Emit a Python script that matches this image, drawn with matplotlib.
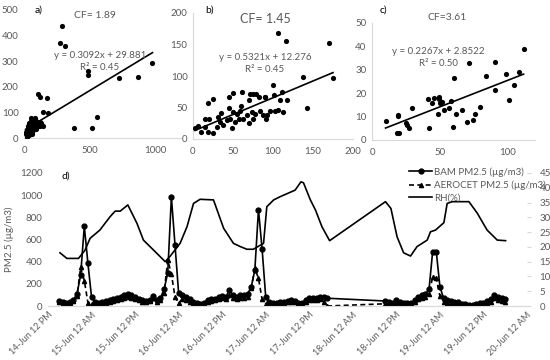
import matplotlib
matplotlib.use("Agg")
import matplotlib.pyplot as plt
import numpy as np

plt.rcParams['font.family'] = ['Lato', 'DejaVu Sans']

GRAY = '#595959'
SPINE = '#d9d9d9'

# ---------------- panel a data ----------------
a_x = [290, 275, 313, 491, 491, 982, 723, 870, 109, 122, 173, 181, 143, 555, 384, 517, 147,
       12, 18, 22, 25, 30, 33, 35, 38, 40, 42, 45, 48, 50, 52, 55, 58, 60, 62, 65, 68, 70, 72,
       75, 78, 80, 85, 88, 90, 95, 100, 105, 110, 115, 120, 125, 130, 20, 28, 36, 44, 56, 64, 82]
a_y = [437, 370, 359, 262, 246, 292, 233, 237, 172, 159, 155, 99, 100, 83, 40, 40, 47,
       15, 22, 8, 30, 12, 45, 20, 60, 28, 10, 52, 35, 18, 65, 42, 25, 70, 55, 38, 48, 75, 30,
       62, 45, 58, 40, 68, 52, 35, 60, 45, 55, 50, 62, 48, 58, 5, 40, 55, 25, 78, 15, 80]
a_eq = "y = 0.3092x + 29.881"
a_r2 = "R² = 0.45"
a_cf = "CF= 1.89"
a_slope, a_int = 0.3092, 29.881

# ---------------- panel b data ----------------
b_x = [106.7, 116, 170, 175, 138, 142, 117, 111, 100, 90, 61, 50, 45, 25, 19, 71,
       2.5, 6.7, 9.6, 15, 19, 25, 20.4, 15, 31.7, 33.7, 29.6, 37.9, 42, 46.3, 48.3, 52.5,
       55.4, 58.8, 60, 57.9, 62.9, 67, 70.4, 75.4, 77.5, 73.3, 83.8, 87.9, 91.3, 92.9, 96.3,
       102.5, 106.7, 108.8, 101.3, 78.8, 74.6, 82.9, 69.6, 45.4, 34.6, 50.4, 112.9, 89.6]
b_y = [169, 155, 152, 97, 99, 49, 62, 74, 86, 67, 75, 73, 66, 63, 57, 71,
       17, 20.6, 11.6, 18.5, 11.6, 9, 31, 32, 35, 27, 19.6, 22, 30, 32, 17, 27,
       40, 45, 52, 32, 32, 38, 26, 32, 40, 43, 45, 38, 32, 38, 45,
       45, 46, 62, 70, 72, 72, 66, 62, 50, 42, 43, 43, 66]
b_eq = "y = 0.5321x + 12.276"
b_r2 = "R² = 0.45"
b_cf = "CF= 1.45"
b_slope, b_int = 0.5321, 12.276

# ---------------- panel c data ----------------
c_x = [10, 18.8, 19, 18.3, 20, 29.4, 25.2, 25.7, 27, 42.2, 41.2, 45.4, 44.2, 49.1, 49.1, 48.4,
       49.9, 51.6, 52.8, 56.5, 58.3, 60.2, 61.5, 59.5, 66.4, 69.6, 71.4, 74.6, 75.6, 79.3,
       84.2, 90.4, 90.4, 99, 100.5, 104.7, 108.4, 111.6]
c_y = [8.1, 10.7, 10.3, 2.9, 3.2, 13.8, 7.4, 6.4, 5.3, 5.3, 17.4, 18.1, 15.7, 18.5, 17.6, 11,
       15.7, 16.4, 12.8, 13.8, 16.8, 26.6, 11, 5.4, 12.8, 7.6, 33, 8.5, 11, 14,
       27.5, 33.2, 21.4, 28.2, 17.1, 23.5, 29.2, 38.9]
c_eq = "y = 0.2267x + 2.8522"
c_r2 = "R² = 0.50"
c_cf = "CF=3.61"
c_slope, c_int = 0.2267, 2.8522

# ---------------- panel d data (hours after 14-Jun 12 PM) ----------------
bam_hours_1 = list(range(3, 78))
bam_vals_1 = [45, 35, 30, 35, 55, 110, 280, 720, 385, 80,
              35, 30, 35, 45, 55, 60, 70, 85, 100, 105,
              95, 80, 65, 50, 45, 55, 90, 50, 75, 150,
              300, 985, 550, 115, 100, 80, 60, 40, 25, 20,
              30, 55, 60, 65, 80, 90, 85, 140, 95, 80,
              100, 95, 110, 170, 325, 870, 515, 80, 35, 30,
              30, 35, 40, 45, 50, 45, 30, 25, 50, 70,
              75, 70, 85, 80, 70]
bam_hours_2 = list(range(93, 127))
bam_vals_2 = [45, 35, 30, 50, 35, 25, 30, 25, 50, 85,
              100, 110, 150, 490, 490, 175, 70, 50, 45, 40,
              35, 20, 15, 10, 5, 15, 25, 30, 45, 60,
              100, 80, 75, 60]

aer_vals_1 = [35, 28, 25, 30, 45, 90, 350, 230, 30, 20,
              20, 20, 25, 30, 40, 45, 55, 65, 75, 80,
              70, 60, 50, 40, 35, 45, 70, 40, 55, 120,
              415, 290, 80, 30, 60, 55, 40, 25, 15, 10,
              20, 40, 45, 50, 60, 70, 65, 100, 70, 60,
              75, 70, 85, 160, 340, 250, 60, 20, 15, 15,
              20, 25, 30, 35, 40, 35, 20, 15, 35, 50,
              55, 50, 60, 40, 0]
aer_vals_2 = [20, 20, 15, 30, 20, 15, 20, 15, 35, 60,
              75, 85, 110, 260, 250, 90, 40, 30, 30, 25,
              20, 10, 8, 5, 3, 8, 15, 20, 30, 40,
              70, 50, 45, 35]

rh_hours = [3.3, 5.2, 8.4, 10.2, 11.6, 14.3, 17.1, 18.5, 19.9, 22.0, 24.5, 26.3, 29.1, 32.3,
            33.7, 36.4, 38.3, 40.1, 41.9, 45.6, 48.4, 51.1, 53.0, 54.8, 56.6, 59.4, 60.3,
            62.2, 64.0, 68.1, 69.7, 70.4, 72.3, 73.7, 75.5, 77.6, 93.0, 94.5, 96.2, 98.0,
            99.9, 101.7, 104.5, 105.4, 106.8, 109.1, 110.0, 111.4, 116.0, 118.3, 121.0,
            123.8, 126.1]
rh_vals = [18.0, 16.1, 16.1, 18.9, 22.9, 25.7, 30.2, 32.1, 32.1, 34.2, 28.0, 22.3, 18.9, 15.0,
           16.9, 21.2, 26.8, 34.7, 36.1, 35.9, 26.3, 21.2, 20.1, 19.2, 19.2, 21.2, 33.6,
           35.9, 37.0, 39.2, 42.0, 41.7, 35.9, 32.5, 26.8, 22.1, 35.3, 33.0, 23.4, 18.0,
           16.9, 20.1, 22.3, 25.1, 25.7, 28.2, 34.7, 35.3, 35.3, 31.4, 25.7,
           22.3, 22.1]

d_tick_labels = ["14-Jun 12 PM", "15-Jun 12 AM", "15-Jun 12 PM", "16-Jun 12 AM",
                 "16-Jun 12 PM", "17-Jun 12 AM", "17-Jun 12 PM", "18-Jun 12 AM",
                 "18-Jun 12 PM", "19-Jun 12 AM", "19-Jun 12 PM", "20-Jun 12 AM"]

W, H = 550, 360
fig = plt.figure(figsize=(5.5, 3.6), dpi=100)


def px_rect(x0, y0, x1, y1):
    return [x0 / W, 1 - y1 / H, (x1 - x0) / W, (y1 - y0) / H]


def ftext(x, y, s, **kw):
    fig.text(x / W, 1 - y / H, s, **kw)


def style_scatter_ax(ax, left_spine=True):
    for s in ['top', 'right']:
        ax.spines[s].set_visible(False)
    ax.spines['left'].set_visible(left_spine)
    ax.spines['left'].set_color(SPINE)
    ax.spines['bottom'].set_color(SPINE)
    ax.tick_params(length=0, labelsize=7, colors=GRAY)
    ax.tick_params(axis='x', pad=6)
    ax.tick_params(axis='y', pad=4)


def scatter_panel(rect, xs, ys, slope, inter, xlim, xticks, ylim, yticks, left_spine):
    ax = fig.add_axes(rect)
    ax.scatter(xs, ys, s=14, color='black', zorder=3, linewidths=0)
    xx = np.array([min(xs), max(xs)])
    ax.plot(xx, slope * xx + inter, color='black', lw=1.2, zorder=4)
    ax.set_xlim(*xlim)
    ax.set_ylim(*ylim)
    ax.set_xticks(xticks)
    ax.set_yticks(yticks)
    style_scatter_ax(ax, left_spine)
    ax.patch.set_alpha(0)
    return ax


scatter_panel(px_rect(24, 10, 181, 138), a_x, a_y, a_slope, a_int,
              (0, 1200), [0, 500, 1000], (0, 500), range(0, 501, 100), False)
scatter_panel(px_rect(193, 13, 353, 139), b_x, b_y, b_slope, b_int,
              (0, 200), range(0, 201, 50), (0, 200), range(0, 201, 50), True)
scatter_panel(px_rect(372, 23, 535, 140), c_x, c_y, c_slope, c_int,
              (0, 120), [0, 50, 100], (0, 50), range(0, 51, 10), True)

# panel texts
ftext(35, 10, "a)", fontsize=7.5, color='black', ha='left', va='center')
ftext(95, 15, a_cf, fontsize=7.5, color=GRAY, ha='center', va='center')
ftext(100, 55, a_eq, fontsize=7, color=GRAY, ha='center', va='center')
ftext(100, 68, a_r2, fontsize=7, color=GRAY, ha='center', va='center')

ftext(205, 10, "b)", fontsize=7.5, color='black', ha='left', va='center')
ftext(265, 19, b_cf, fontsize=9, color=GRAY, ha='center', va='center')
ftext(265, 57, b_eq, fontsize=7, color=GRAY, ha='center', va='center')
ftext(265, 69, b_r2, fontsize=7, color=GRAY, ha='center', va='center')

ftext(380, 10, "c)", fontsize=7.5, color='black', ha='left', va='center')
ftext(447, 17, c_cf, fontsize=7.5, color=GRAY, ha='center', va='center')
ftext(438, 52, c_eq, fontsize=7, color=GRAY, ha='center', va='center')
ftext(438, 63, c_r2, fontsize=7, color=GRAY, ha='center', va='center')

# ---------------- panel d ----------------
axd = fig.add_axes(px_rect(48, 173, 527, 306))
axd2 = axd.twinx()

# the instrument lines are drawn straight across the data gap as in the original
bam_h_c = bam_hours_1 + bam_hours_2
bam_v_c = bam_vals_1 + bam_vals_2
aer_v_c = aer_vals_1 + aer_vals_2

l1, = axd.plot(bam_h_c, bam_v_c, color='black', lw=1.2, marker='o', ms=3.5,
               label='BAM PM2.5 (µg/m3)', zorder=4)
l2, = axd.plot(bam_h_c, aer_v_c, color='black', lw=1.2, ls=(0, (3, 2)), marker='^', ms=3,
               label='AEROCET PM2.5 (µg/m3)', zorder=3)
l3, = axd2.plot(rh_hours, rh_vals, color='black', lw=1.2, label='RH(%)')

axd.set_xlim(0, 132)
axd.set_ylim(0, 1200)
axd.set_yticks(range(0, 1201, 200))
axd.set_xticks(range(0, 133, 12))
axd.set_xticklabels(d_tick_labels, rotation=45, ha='right', va='top',
                    rotation_mode='anchor')
axd2.set_ylim(0, 45)
axd2.set_yticks(range(0, 46, 5))

for ax in (axd, axd2):
    for s in ['top', 'left', 'right']:
        ax.spines[s].set_visible(False)
    ax.spines['bottom'].set_color(SPINE)
    ax.tick_params(labelsize=7, colors=GRAY)
axd.tick_params(axis='y', length=0, pad=4)
axd.tick_params(axis='x', length=0, pad=3, labelsize=6.5)
axd2.tick_params(axis='y', length=3, color=SPINE, pad=6)
axd.set_ylabel('PM2.5 (µg/m3)', fontsize=7, color=GRAY, labelpad=4)

leg = fig.legend(handles=[l1, l2, l3], loc='upper left',
                 bbox_to_anchor=(409 / W, 1 - 167 / H), frameon=False, fontsize=7,
                 handlelength=2.4, handletextpad=0.2, labelspacing=0.4,
                 borderpad=0, borderaxespad=0)
for t in leg.get_texts():
    t.set_color(GRAY)

ftext(62, 176, "d)", fontsize=7.5, color='black', ha='left', va='center')

fig.savefig('out.png', dpi=100)
